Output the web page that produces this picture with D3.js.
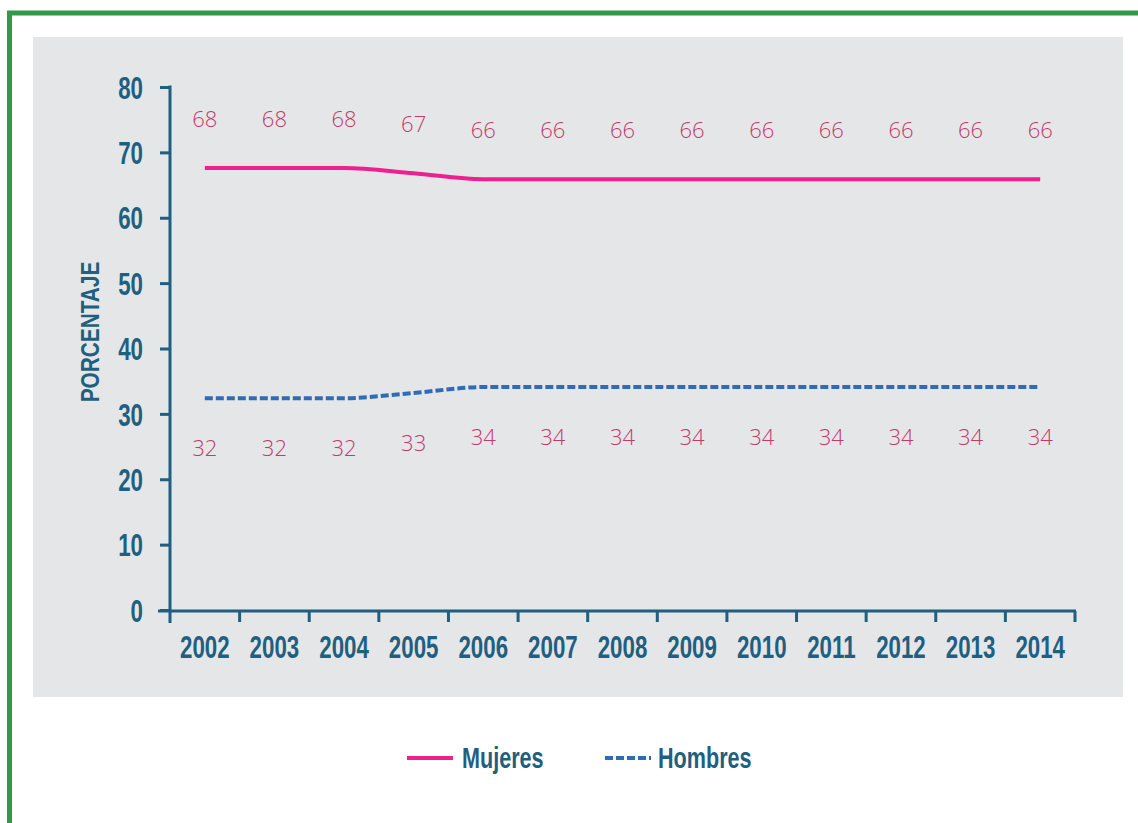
<!DOCTYPE html>
<html>
<head>
<meta charset="utf-8">
<script src="https://cdn.jsdelivr.net/npm/d3@7"></script>
<style>
  body { margin: 0; background: #fff; }
  .tick text, .axtitle, .legtxt { font-family: "Liberation Sans", sans-serif; font-weight: bold; fill: #1f5f80; }
  .lbl { font-family: "Open Sans", sans-serif; font-weight: 300; fill: #c23a6c; font-size: 22px; }
</style>
</head>
<body>
<svg id="mysvg" width="1138" height="823"></svg>
<script>
var years = ["2002","2003","2004","2005","2006","2007","2008","2009","2010","2011","2012","2013","2014"];
var mujeres = [67.6, 67.6, 67.6, 66.8, 65.9, 65.9, 65.9, 65.9, 65.9, 65.9, 65.9, 65.9, 65.9];
var hombres = [32.4, 32.4, 32.4, 33.2, 34.1, 34.1, 34.1, 34.1, 34.1, 34.1, 34.1, 34.1, 34.1];
var mujeresLbl = ["68","68","68","67","66","66","66","66","66","66","66","66","66"];
var hombresLbl = ["32","32","32","33","34","34","34","34","34","34","34","34","34"];
var yTicks = [0, 10, 20, 30, 40, 50, 60, 70, 80];

var axisColor = "#1f5f80";
var pink = "#ee1f8e";
var blue = "#2f6cb7";
var sx = 0.72; // letra condensada

var svg = d3.select("#mysvg");

// marco verde y panel gris
svg.append("rect").attr("x", 9.5).attr("y", 13).attr("width", 1140).attr("height", 830)
	.attr("fill", "none").attr("stroke", "#33994a").attr("stroke-width", 5);
svg.append("rect").attr("x", 33).attr("y", 37).attr("width", 1090).attr("height", 660)
	.attr("fill", "#e5e6e8");

var x = d3.scaleBand().domain(years).range([170, 1075]);
var y = d3.scaleLinear().domain([0, 80]).range([610, 87]);

// eje Y
var gy = svg.append("g").attr("transform", "translate(170,0)")
	.call(d3.axisLeft(y).tickValues(yTicks).tickSize(10).tickPadding(17).tickSizeOuter(0));
gy.select(".domain").remove();
gy.selectAll(".tick line").attr("stroke", axisColor).attr("stroke-width", 3);
gy.selectAll(".tick text").style("font-size", "31px").attr("dy", "0.36em")
	.attr("x", -27 / sx).attr("transform", "scale(" + sx + ",1)");
svg.append("line").attr("x1", 170).attr("x2", 170).attr("y1", y(80) - 1.5).attr("y2", 623)
	.attr("stroke", axisColor).attr("stroke-width", 3);

// eje X
var gx = svg.append("g").attr("transform", "translate(0,611)")
	.call(d3.axisBottom(x).tickSize(0).tickPadding(25));
gx.select(".domain").remove();
gx.selectAll(".tick text").style("font-size", "31px").attr("transform", "scale(" + sx + ",1)");
svg.append("line").attr("x1", 158).attr("x2", 1076).attr("y1", 611).attr("y2", 611)
	.attr("stroke", axisColor).attr("stroke-width", 3);
var edges = years.map(function (d) { return x(d); }).concat([x.range()[1]]);
svg.append("g").selectAll("line").data(edges.slice(1)).enter().append("line")
	.attr("x1", function (d) { return d; }).attr("x2", function (d) { return d; })
	.attr("y1", 611).attr("y2", 622)
	.attr("stroke", axisColor).attr("stroke-width", 3);

svg.append("text").attr("class", "axtitle")
	.attr("transform", "translate(99,332) rotate(-90) scale(0.8,1)")
	.attr("text-anchor", "middle").style("font-size", "26px")
	.text("PORCENTAJE");

// lineas
var cx = function (i) { return x(years[i]) + x.bandwidth() / 2; };
var line = d3.line().curve(d3.curveMonotoneX)
	.x(function (d, i) { return cx(i); })
	.y(function (d) { return y(d); });

svg.append("path").datum(mujeres).attr("d", line)
	.attr("fill", "none").attr("stroke", pink).attr("stroke-width", 4);
svg.append("path").datum(hombres).attr("d", line)
	.attr("fill", "none").attr("stroke", blue).attr("stroke-width", 4)
	.attr("stroke-dasharray", "8,3");

// etiquetas
svg.append("g").selectAll("text").data(mujeres).enter().append("text")
	.attr("class", "lbl").attr("text-anchor", "middle")
	.attr("x", function (d, i) { return cx(i); })
	.attr("y", function (d) { return y(d) - 41; })
	.text(function (d, i) { return mujeresLbl[i]; });
svg.append("g").selectAll("text").data(hombres).enter().append("text")
	.attr("class", "lbl").attr("text-anchor", "middle")
	.attr("x", function (d, i) { return cx(i); })
	.attr("y", function (d) { return y(d) + 58; })
	.text(function (d, i) { return hombresLbl[i]; });

// leyenda
var leg = svg.append("g");
leg.append("line").attr("x1", 407).attr("x2", 453).attr("y1", 758).attr("y2", 758)
	.attr("stroke", pink).attr("stroke-width", 4);
leg.append("text").attr("class", "legtxt").attr("x", 462 / sx).attr("y", 768)
	.attr("transform", "scale(" + sx + ",1)")
	.style("font-size", "30px").text("Mujeres");
leg.append("line").attr("x1", 605).attr("x2", 651).attr("y1", 758).attr("y2", 758)
	.attr("stroke", blue).attr("stroke-width", 4).attr("stroke-dasharray", "8,3");
leg.append("text").attr("class", "legtxt").attr("x", 658 / sx).attr("y", 768)
	.attr("transform", "scale(" + sx + ",1)")
	.style("font-size", "30px").text("Hombres");
</script>
</body>
</html>
